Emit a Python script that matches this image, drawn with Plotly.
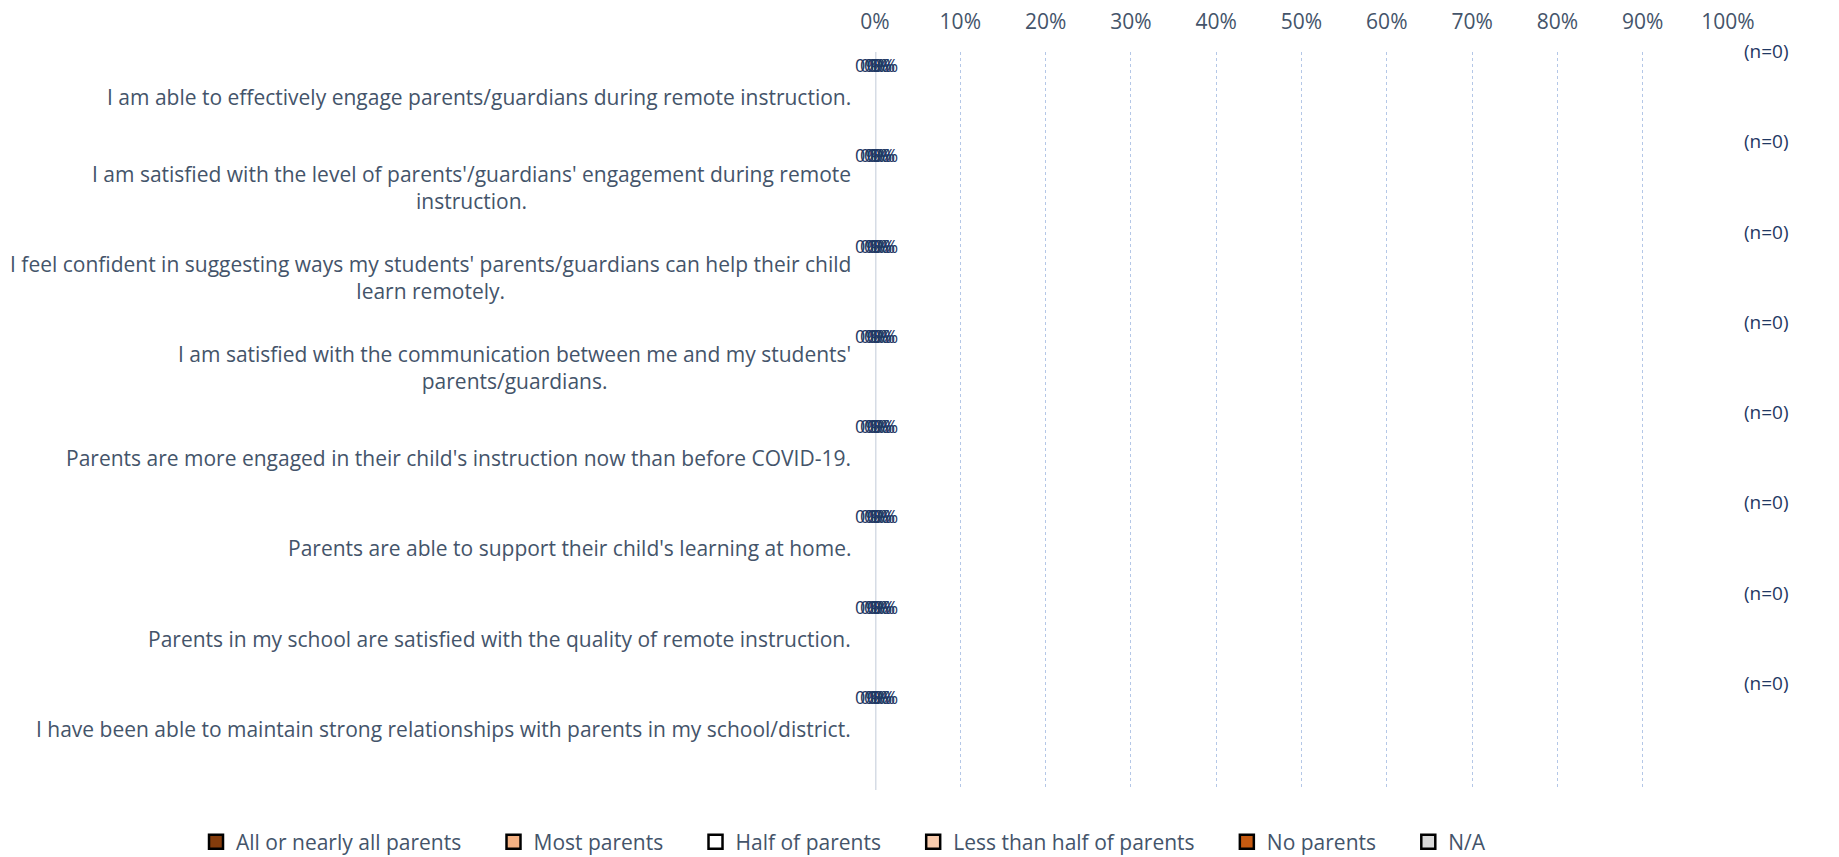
import plotly.graph_objects as go
import numpy as np

categories = [
    "I am able to effectively engage parents/guardians during remote instruction.",
    "I am satisfied with the level of parents'/guardians' engagement during remote<br>instruction.",
    "I feel confident in suggesting ways my students' parents/guardians can help their child<br>learn remotely.",
    "I am satisfied with the communication between me and my students'<br>parents/guardians.",
    "Parents are more engaged in their child's instruction now than before COVID-19.",
    "Parents are able to support their child's learning at home.",
    "Parents in my school are satisfied with the quality of remote instruction.",
    "I have been able to maintain strong relationships with parents in my school/district.",
]
series_names = ["All or nearly all parents", "Most parents", "Half of parents",
                "Less than half of parents", "No parents", "N/A"]
series_colors = ["#843C0C", "#F4B183", "#FFFFFF", "#F8CBAD", "#C55A11", "#D9D9D9"]
values = {
    "All or nearly all parents": [0, 0, 0, 0, 0, 0, 0, 0],
    "Most parents": [0, 0, 0, 0, 0, 0, 0, 0],
    "Half of parents": [0, 0, 0, 0, 0, 0, 0, 0],
    "Less than half of parents": [0, 0, 0, 0, 0, 0, 0, 0],
    "No parents": [0, 0, 0, 0, 0, 0, 0, 0],
    "N/A": [0, 0, 0, 0, 0, 0, 0, 0],
}
n_counts = [0, 0, 0, 0, 0, 0, 0, 0]
x_ticks = [0, 10, 20, 30, 40, 50, 60, 70, 80, 90, 100]

FONT = "Open Sans"
TXT = "#44546A"
NAVY = "#1F3864"
pad = "\u00a0" * 5

fig = go.Figure()
for name, color in zip(series_names, series_colors):
    fig.add_trace(go.Bar(
        y=categories, x=values[name], orientation="h", name=name,
        marker=dict(color=color, line=dict(width=0)),
        width=0.4, offset=-0.45, showlegend=False,
    ))
# legend entries (square swatches with dark outline)
for name, color in zip(series_names, series_colors):
    fig.add_trace(go.Scatter(
        x=[None], y=[None], mode="markers", name=name + pad,
        marker=dict(symbol="square", size=14, color=color,
                    line=dict(color="#000000", width=2.5)),
    ))

annotations = []
for c in categories:
    annotations.append(dict(
        x=0, xref="paper", y=c, yref="y", xanchor="right", yanchor="middle",
        xshift=-22, text=c, showarrow=False, align="center",
        font=dict(family=FONT, size=21, color=TXT),
    ))
jitter = [-8, -3, 1, 4, 7, 10]
cum = np.zeros(len(categories))
for s, name in enumerate(series_names):
    v = np.array(values[name], dtype=float)
    mids = cum + v / 2
    for i, c in enumerate(categories):
        annotations.append(dict(
            x=mids[i], y=c, xref="x", yref="y", text=f"{v[i]:.0f}%",
            showarrow=False, xshift=jitter[s], yshift=32,
            font=dict(family=FONT, size=18, color=NAVY),
        ))
    cum = cum + v
for i, c in enumerate(categories):
    annotations.append(dict(
        x=1.074, xref="paper", y=c, yref="y", text=f"(n={n_counts[i]})",
        showarrow=False, yshift=46,
        font=dict(family=FONT, size=19, color=NAVY),
    ))

fig.update_layout(
    barmode="stack",
    width=1839, height=857,
    margin=dict(l=875, r=111, t=52, b=67, autoexpand=False),
    plot_bgcolor="white", paper_bgcolor="white",
    font=dict(family=FONT, color=TXT),
    annotations=annotations,
    showlegend=True,
    legend=dict(orientation="h", xref="paper", yref="paper",
                x=-0.796, xanchor="left", y=-0.0705, yanchor="middle",
                font=dict(family=FONT, size=21, color=TXT), traceorder="normal",
                itemwidth=30),
    xaxis=dict(
        side="top", range=[0, 100], tickvals=x_ticks,
        ticktext=[f"{t}%" for t in x_ticks], automargin=False,
        showgrid=True, gridcolor="#B4C7E7", griddash="dot", gridwidth=1,
        zeroline=False, showline=False,
        ticks="outside", ticklen=14, tickcolor="rgba(0,0,0,0)",
        tickfont=dict(family=FONT, size=21, color=TXT),
    ),
    yaxis=dict(autorange="reversed", showticklabels=False, showgrid=False,
               zeroline=False, showline=False, ticks="", automargin=False),
    shapes=[dict(type="line", xref="x", yref="paper", x0=0, x1=0, y0=0, y1=1,
                 line=dict(color="#D6DCE5", width=3), layer="below")],
)

fig.write_html("out.html", post_script="document.body.style.margin='0';",
               config={"displayModeBar": False})
